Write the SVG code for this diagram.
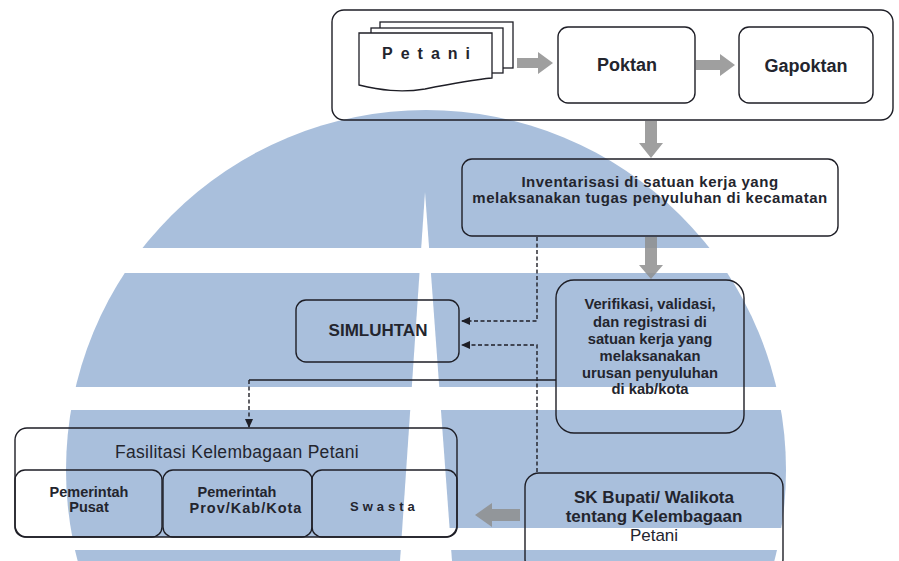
<svg xmlns="http://www.w3.org/2000/svg" width="899" height="561" viewBox="0 0 899 561">
<style>
.box{fill:none;stroke:#1e1e26;stroke-width:1.4}
.page{fill:#fff;stroke:#1e1e26;stroke-width:1.3}
.t{font-family:"Liberation Sans",Arial,sans-serif;fill:#23252e;text-anchor:middle}
.b{font-weight:bold}
.dash{fill:none;stroke:#1e1e26;stroke-width:1.4;stroke-dasharray:4 2.5}
.solid{fill:none;stroke:#1e1e26;stroke-width:1.4}
.garrow{fill:#8e8e8e;opacity:0.85}
.wm{fill:#a9bfdc}
.wh{fill:#fff}
</style>
<defs>
<marker id="ah" markerWidth="10" markerHeight="10" refX="8" refY="4" orient="auto" markerUnits="userSpaceOnUse">
<path d="M0,0 L9,4 L0,8 Z" fill="#1e1e26"/>
</marker>
</defs>
<rect width="899" height="561" fill="#fff"/>
<g id="watermark">
<circle class="wm" cx="426" cy="470" r="360"/>
<rect class="wh" x="0" y="248" width="899" height="25"/>
<rect class="wh" x="0" y="387" width="899" height="23"/>
<rect class="wh" x="0" y="537" width="425" height="13"/>
<rect class="wh" x="425" y="528" width="474" height="22"/>
<polygon class="wh" points="425,192 400,561 452,561"/>
</g>
<g id="connectors">
<polygon class="garrow" points="517,58 538,58 538,52 553,63 538,74 538,68 517,68"/>
<polygon class="garrow" points="696,60 720,60 720,54 735,65 720,76 720,70 696,70"/>
<polygon class="garrow" points="645,121 657,121 657,143 663,143 651,158 639,143 645,143"/>
<polygon class="garrow" points="645,237 657,237 657,265 663,265 651,279 639,265 645,265"/>
<polygon class="garrow" points="520,509 492,509 492,503 475,515 492,527 492,521 520,521"/>
<polyline class="dash" points="537,237 537,321 462,321" marker-end="url(#ah)"/>
<polyline class="dash" points="537,472 537,345 462,345" marker-end="url(#ah)"/>
<polyline class="solid" points="556,380 249,380"/>
<polyline class="dash" points="249,380 249,427" marker-end="url(#ah)"/>
</g>
<g id="group-container">
<rect class="box" x="332" y="10" width="561" height="110" rx="12"/>
</g>
<g id="node-petani">
<rect class="page" x="380" y="22" width="133" height="46"/>
<rect class="page" x="371" y="28" width="132" height="45"/>
<path class="page" d="M359,33 H492 V78 C470,80 450,84 425,89 C400,93 380,90 359,85 Z"/>
<text class="t b" x="382" y="59" font-size="16" letter-spacing="8" style="text-anchor:start">Petani</text>
</g>
<g id="node-poktan">
<rect class="box" x="558" y="27" width="137" height="76" rx="10"/>
<text class="t b" x="627" y="71" font-size="18">Poktan</text>
</g>
<g id="node-gapoktan">
<rect class="box" x="739" y="27" width="134" height="76" rx="10"/>
<text class="t b" x="806" y="72" font-size="18">Gapoktan</text>
</g>
<g id="node-inventarisasi">
<rect class="box" x="462" y="159" width="376" height="77" rx="10"/>
<text class="t b" x="650" y="187" font-size="15" letter-spacing="0.5">Inventarisasi di satuan kerja yang</text>
<text class="t b" x="650" y="203" font-size="15" letter-spacing="0.5">melaksanakan tugas penyuluhan di kecamatan</text>
</g>
<g id="node-verifikasi">
<rect class="box" x="556" y="280" width="188" height="153" rx="18"/>
<text class="t b" font-size="14.75"><tspan x="650" y="309">Verifikasi, validasi,</tspan><tspan x="650" y="327">dan registrasi di</tspan><tspan x="650" y="344">satuan kerja yang</tspan><tspan x="650" y="361">melaksanakan</tspan><tspan x="650" y="378">urusan penyuluhan</tspan><tspan x="650" y="394">di kab/kota</tspan></text>
</g>
<g id="node-simluhtan">
<rect class="box" x="296" y="300" width="163" height="62" rx="10"/>
<text class="t b" x="378" y="336" font-size="17">SIMLUHTAN</text>
</g>
<g id="node-fasilitasi">
<rect class="box" x="15" y="428" width="442" height="109" rx="12"/>
<text class="t" x="237" y="458" font-size="17.5" letter-spacing="0.3">Fasilitasi Kelembagaan Petani</text>
<rect class="box" x="15" y="470" width="147" height="67" rx="10"/>
<rect class="box" x="163" y="470" width="149" height="67" rx="10"/>
<rect class="box" x="312" y="470" width="145" height="67" rx="10"/>
<text class="t b" font-size="14.5" fill="#444"><tspan x="89" y="497">Pemerintah</tspan><tspan x="89" y="512">Pusat</tspan></text>
<text class="t b" font-size="14.5"><tspan x="237" y="497">Pemerintah</tspan><tspan x="246" y="513" letter-spacing="1">Prov/Kab/Kota</tspan></text>
<text class="t b" x="350" y="511" font-size="13" letter-spacing="4" style="text-anchor:start">Swasta</text>
</g>
<g id="node-sk">
<rect class="box" x="525" y="473" width="258" height="100" rx="14"/>
<text class="t b" x="654" y="503" font-size="17">SK Bupati/ Walikota</text>
<text class="t b" x="654" y="522" font-size="17">tentang Kelembagaan</text>
<text class="t" x="654" y="541" font-size="17" fill="#555">Petani</text>
</g>
</svg>
